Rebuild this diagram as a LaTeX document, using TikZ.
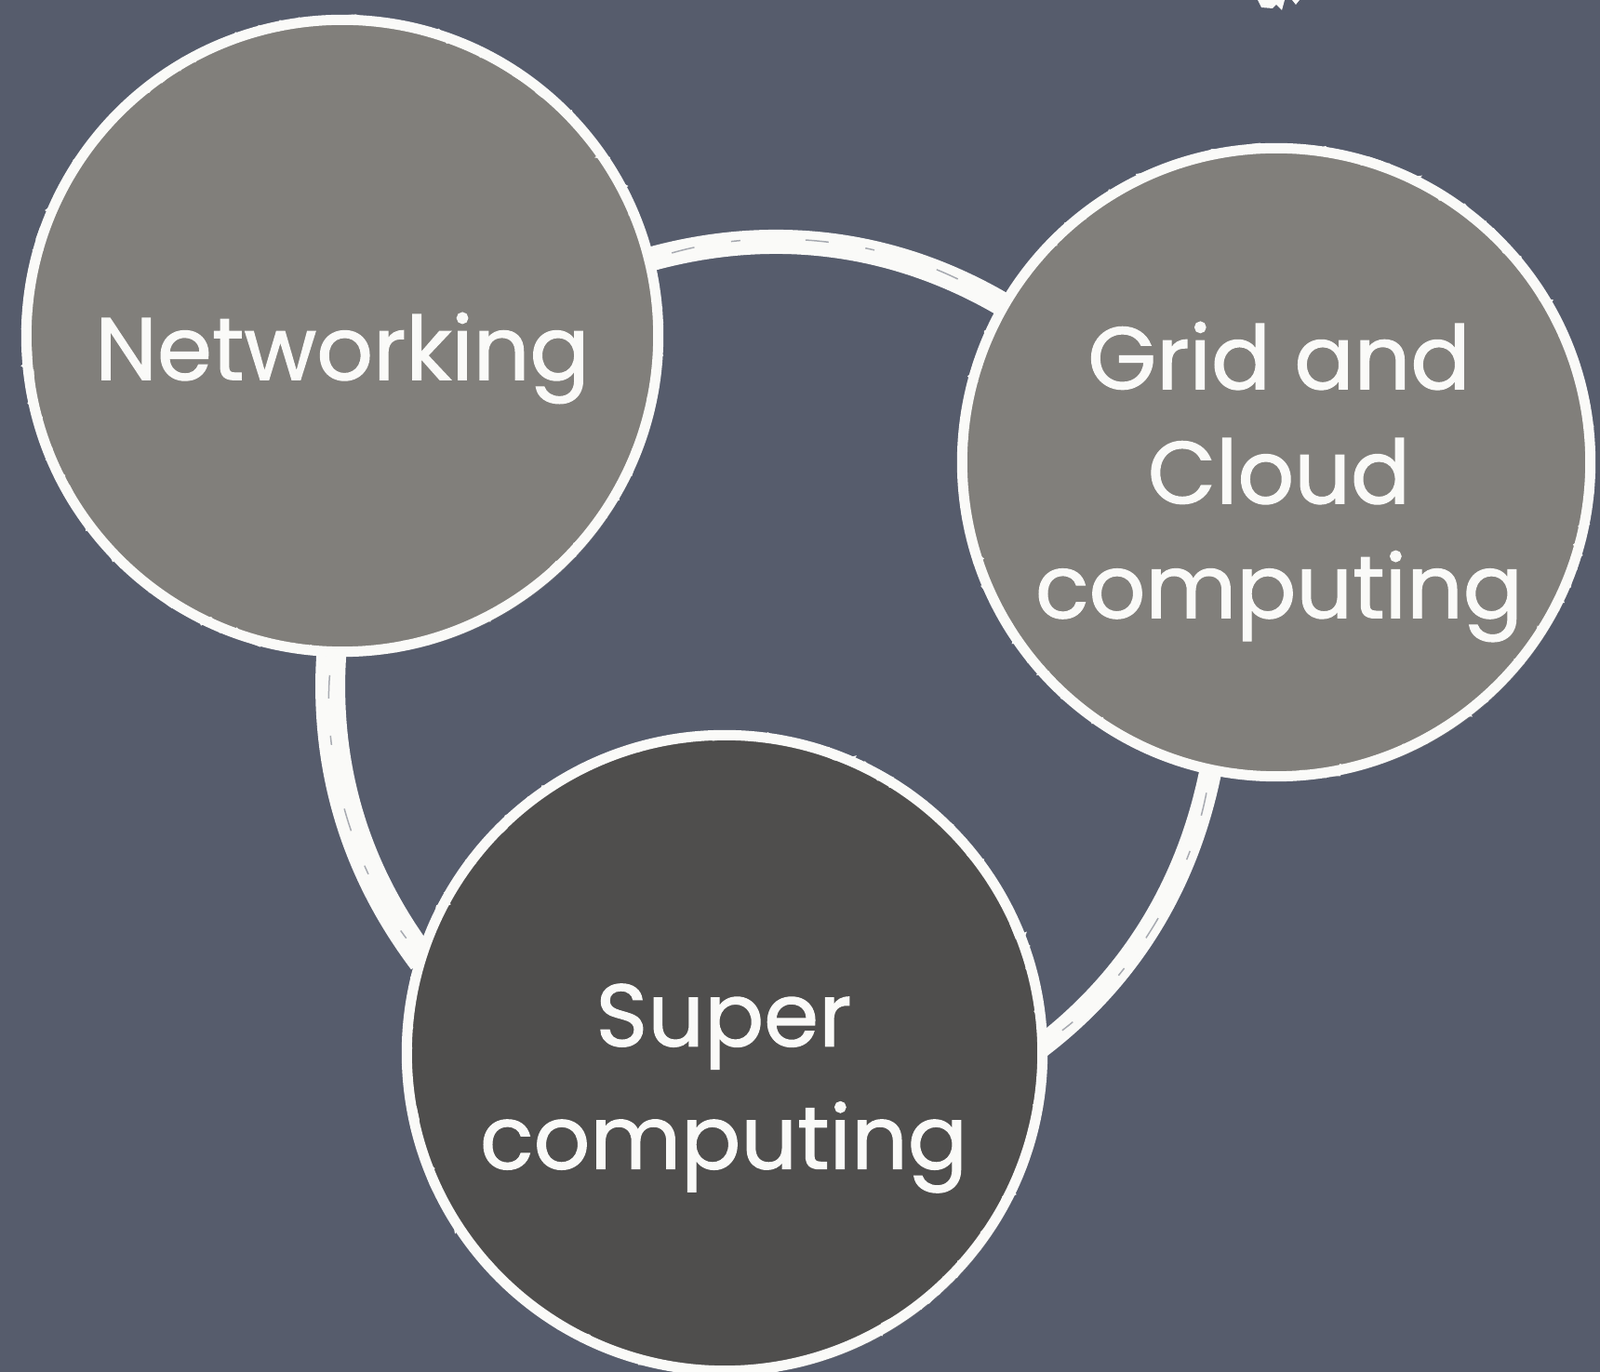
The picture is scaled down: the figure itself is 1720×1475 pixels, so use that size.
\documentclass[tikz,border=0pt]{standalone}
\usepackage{fontspec}
\setmainfont{Poppins}[FakeBold=1.2]
\usetikzlibrary{backgrounds,decorations.pathmorphing,shadows}
\definecolor{board}{RGB}{86,92,108}
\definecolor{disclight}{RGB}{129,127,123}
\definecolor{discdark}{RGB}{79,78,77}
\definecolor{chalk}{RGB}{250,250,248}
\tikzset{
  disc/.style={circle, draw=chalk, line width=0.11cm, inner sep=0pt,
    drop shadow={shadow xshift=0.04cm, shadow yshift=-0.05cm, opacity=0.35},
    postaction={draw=chalk, line width=0.035cm, decorate,
      decoration={random steps, segment length=0.07cm, amplitude=0.045cm}}},
  lbl/.style={text=chalk, align=center, inner sep=0pt},
  link/.style={draw=chalk, line cap=butt, shorten <=-0.1cm, shorten >=-0.1cm,
    postaction={draw=board, line width=0.015cm, dash pattern=on 0.25cm off 0.4cm on 0.1cm off 0.7cm, opacity=0.5,
      shorten <=0.2cm, shorten >=0.2cm}},
}
\begin{document}
\begin{tikzpicture}[x=0.01cm, y=0.01cm]
\useasboundingbox (0,0) rectangle (1720,1475);
\begin{pgfonlayer}{background}
  \fill[board] (0,0) rectangle (1720,1475);
\end{pgfonlayer}
\clip (0,0) rectangle (1720,1475);

% discs
\node[disc, fill=disclight, minimum size=6.79cm] (N) at (368,1114) {};
\node[disc, fill=disclight, minimum size=6.75cm] (G) at (1372,978) {};
\node[disc, fill=discdark,  minimum size=6.83cm] (S) at (779,343) {};

% labels
\node[lbl, font=\fontsize{27}{35}\selectfont] (Nt) at (368,1090) {Networking};
\node[lbl, font=\fontsize{27}{35}\selectfont] (Gt) at (1375,957) {Grid and\\Cloud\\computing};
\node[lbl, font=\fontsize{27}{37.5}\selectfont] (St) at (778,305) {Super\\computing};

% connectors (behind the discs)
\begin{pgfonlayer}{background}
  \draw[link, line width=0.26cm] (N.14) to[out=16, in=149, looseness=0.89] (G.150);
  \draw[link, line width=0.32cm] (N.268) to[out=265.5, in=127, looseness=0.88] (S.162);
  \draw[link, line width=0.24cm] (G.258) to[out=-100.8, in=37.3, looseness=0.88] (S.2);
\end{pgfonlayer}

% small chalk mark at the top edge
\fill[chalk] (1352,1475) -- (1356,1467) -- (1368,1466) -- (1372,1470) -- (1378,1464) -- (1381,1475) -- cycle;
\fill[chalk] (1389,1475) -- (1393,1470) -- (1397,1475) -- cycle;
\end{tikzpicture}
\end{document}
